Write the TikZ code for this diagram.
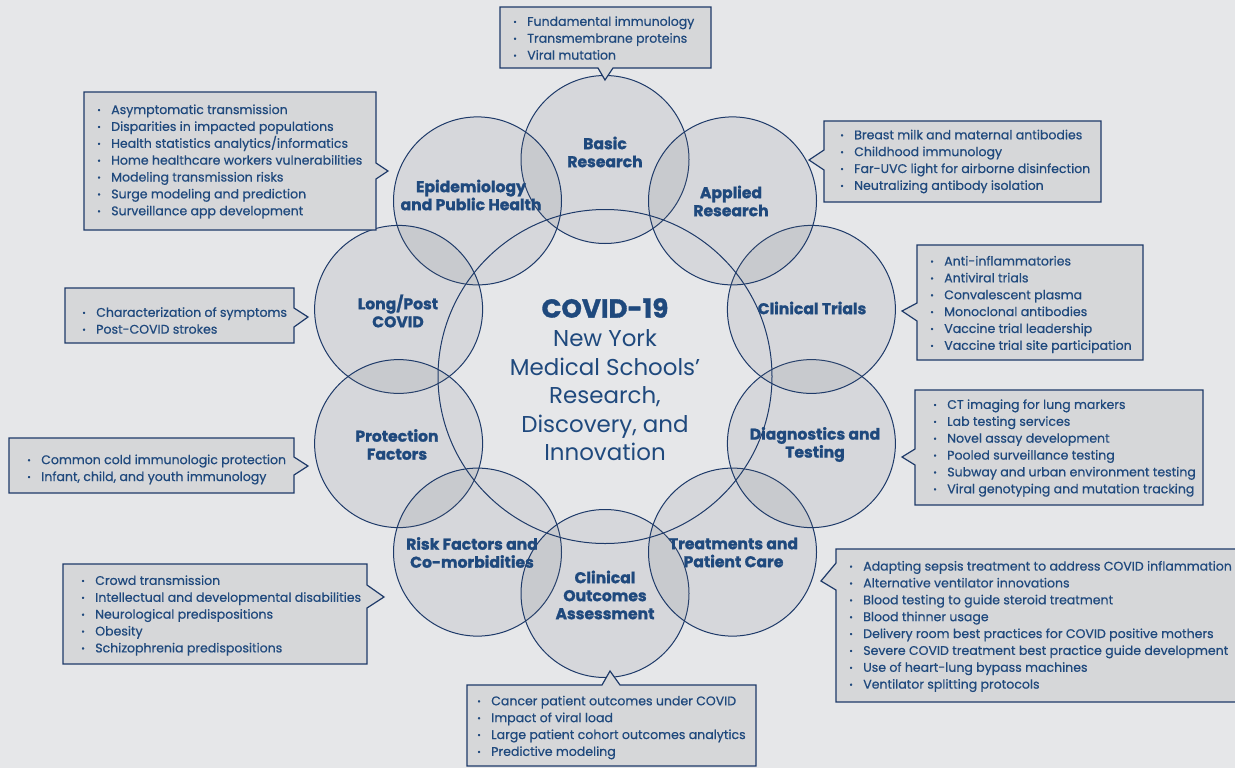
\documentclass[tikz,border=0pt]{standalone}
\usepackage{fontspec}
\setmainfont{Poppins}[BoldFeatures={FakeBold=1.3}]
\newfontfamily\itemfont{Poppins}[FakeBold=0.6]
\definecolor{bg}{RGB}{230,231,233}
\definecolor{navy}{RGB}{31,73,125}
\definecolor{linec}{RGB}{30,58,105}
\definecolor{boxfill}{RGB}{214,215,217}
\definecolor{shade}{RGB}{110,115,125}
\newcommand\bul{\makebox[10.5pt][l]{\raisebox{0.15ex}{\fontsize{6.5}{6.5}\selectfont •}}}
\begin{document}
\begin{tikzpicture}[x=0.75pt,y=-0.75pt,
  topic/.style={circle,minimum size=126pt,inner sep=0pt,draw=linec,line width=0.75pt,fill=shade,fill opacity=0.13},
  hubstyle/.style={circle,minimum size=250.5pt,inner sep=0pt,draw=linec,line width=0.75pt},
  lbl/.style={text=navy,font=\bfseries\fontsize{11.7}{13.5}\selectfont,align=center,inner sep=0pt},
  callout/.style={draw=linec,fill=boxfill,line width=0.9pt},
  items/.style={text=navy,font=\itemfont\fontsize{9.4}{12.65}\selectfont,align=left,inner sep=0pt,anchor=west}]
\fill[bg] (0,0) rectangle (1235,768);
\useasboundingbox (0,0) rectangle (1235,768);
% topic circles
\node[topic] (cbasic)   at (605,159.5) {};
\node[topic] (cepi)     at (477.5,200.9) {};
\node[topic] (clong)    at (398.6,309.4) {};
\node[topic] (cprot)    at (398.6,443.6) {};
\node[topic] (crisk)    at (477.5,552.1) {};
\node[topic] (coutc)    at (605,593.5) {};
\node[topic] (ctreat)   at (732.5,552.1) {};
\node[topic] (cdiag)    at (811.4,443.6) {};
\node[topic] (ctrials)  at (811.4,309.4) {};
\node[topic] (capplied) at (732.5,200.9) {};
\node[hubstyle] (hub) at (605,376.5) {};
% callouts
\draw[callout] (500,7) -- (711,7) -- (711,68) -- (613,68) -- (605,80) -- (598,68) -- (500,68) -- cycle;
\draw[callout] (84,92) -- (376,92) -- (376,163) -- (388,171) -- (376,179) -- (376,230) -- (84,230) -- cycle;
\draw[callout] (824,121) -- (1101,121) -- (1101,202) -- (824,202) -- (824,170) -- (809,160) -- (824,150) -- cycle;
\draw[callout] (65,288) -- (294,288) -- (294,308) -- (308,317) -- (294,327) -- (294,343) -- (65,343) -- cycle;
\draw[callout] (917,245) -- (1143,245) -- (1143,360) -- (917,360) -- (917,321) -- (902,311) -- (917,303) -- cycle;
\draw[callout] (9,438) -- (294,438) -- (294,457) -- (308,466) -- (294,475) -- (294,493) -- (9,493) -- cycle;
\draw[callout] (915,390) -- (1203,390) -- (1203,505) -- (915,505) -- (915,465) -- (902,457) -- (915,449) -- cycle;
\draw[callout] (63,564) -- (367,564) -- (367,585) -- (384,597) -- (367,608) -- (367,664) -- (63,664) -- cycle;
\draw[callout] (467,685) -- (602,685) -- (610,671) -- (620,685) -- (756,685) -- (756,766) -- (467,766) -- cycle;
\draw[callout] (836,549) -- (1245,549) -- (1245,702) -- (836,702) -- (836,590) -- (821,581) -- (836,563) -- cycle;
% circle labels
\node[lbl] (lbasic)   at (605,152)   {Basic\\Research};
\node[lbl] (lepi)     at (471,195)   {Epidemiology\\and Public Health};
\node[lbl] (lapplied) at (731,201)   {Applied\\Research};
\node[lbl] (llong)    at (398,311)   {Long/Post\\COVID};
\node[lbl] (ltrials)  at (812,308)   {Clinical Trials};
\node[lbl] (lprot)    at (397,444.5) {Protection\\Factors};
\node[lbl] (ldiag)    at (815,444.5) {Diagnostics and\\Testing};
\node[lbl] (lrisk)    at (472,552.5) {Risk Factors and\\Co-morbidities};
\node[lbl] (ltreat)   at (733.5,552.5) {Treatments and\\Patient Care};
\node[lbl] (loutc)    at (605,595)   {Clinical\\Outcomes\\Assessment};
% centre
\node[text=navy,font=\bfseries\fontsize{19.5}{22}\selectfont,inner sep=0pt] (title) at (605,308) {COVID-19};
\node[text=navy,font=\fontsize{17.2}{21.4}\selectfont,align=center,inner sep=0pt] (subtitle) at (605,395.5)
  {New York\\Medical Schools’\\Research,\\Discovery, and\\Innovation};
% item lists
\node[items] (tbasic) at (513,38) {\bul Fundamental immunology\\\bul Transmembrane proteins\\\bul Viral mutation};
\node[items] (tepi) at (97,161.5) {\bul Asymptomatic transmission\\\bul Disparities in impacted populations\\\bul Health statistics analytics/informatics\\\bul Home healthcare workers vulnerabilities\\\bul Modeling transmission risks\\\bul Surge modeling and prediction\\\bul Surveillance app development};
\node[items] (tapplied) at (840,161.5) {\bul Breast milk and maternal antibodies\\\bul Childhood immunology\\\bul Far-UVC light for airborne disinfection\\\bul Neutralizing antibody isolation};
\node[items] (tlong) at (82,320.5) {\bul Characterization of symptoms\\\bul Post-COVID strokes};
\node[items] (ttrials) at (930,304.5) {\bul Anti-inflammatories\\\bul Antiviral trials\\\bul Convalescent plasma\\\bul Monoclonal antibodies\\\bul Vaccine trial leadership\\\bul Vaccine trial site participation};
\node[items] (tprot) at (27,469.5) {\bul Common cold immunologic protection\\\bul Infant, child, and youth immunology};
\node[items] (tdiag) at (933,448) {\bul CT imaging for lung markers\\\bul Lab testing services\\\bul Novel assay development\\\bul Pooled surveillance testing\\\bul Subway and urban environment testing\\\bul Viral genotyping and mutation tracking};
\node[items] (trisk) at (81,615.5) {\bul Crowd transmission\\\bul Intellectual and developmental disabilities\\\bul Neurological predispositions\\\bul Obesity\\\bul Schizophrenia predispositions};
\node[items] (toutc) at (477,727.5) {\bul Cancer patient outcomes under COVID\\\bul Impact of viral load\\\bul Large patient cohort outcomes analytics\\\bul Predictive modeling};
\node[items] (ttreat) at (849,626.5) {\bul Adapting sepsis treatment to address COVID inflammation\\\bul Alternative ventilator innovations\\\bul Blood testing to guide steroid treatment\\\bul Blood thinner usage\\\bul Delivery room best practices for COVID positive mothers\\\bul Severe COVID treatment best practice guide development\\\bul Use of heart-lung bypass machines\\\bul Ventilator splitting protocols};
\end{tikzpicture}
\end{document}
